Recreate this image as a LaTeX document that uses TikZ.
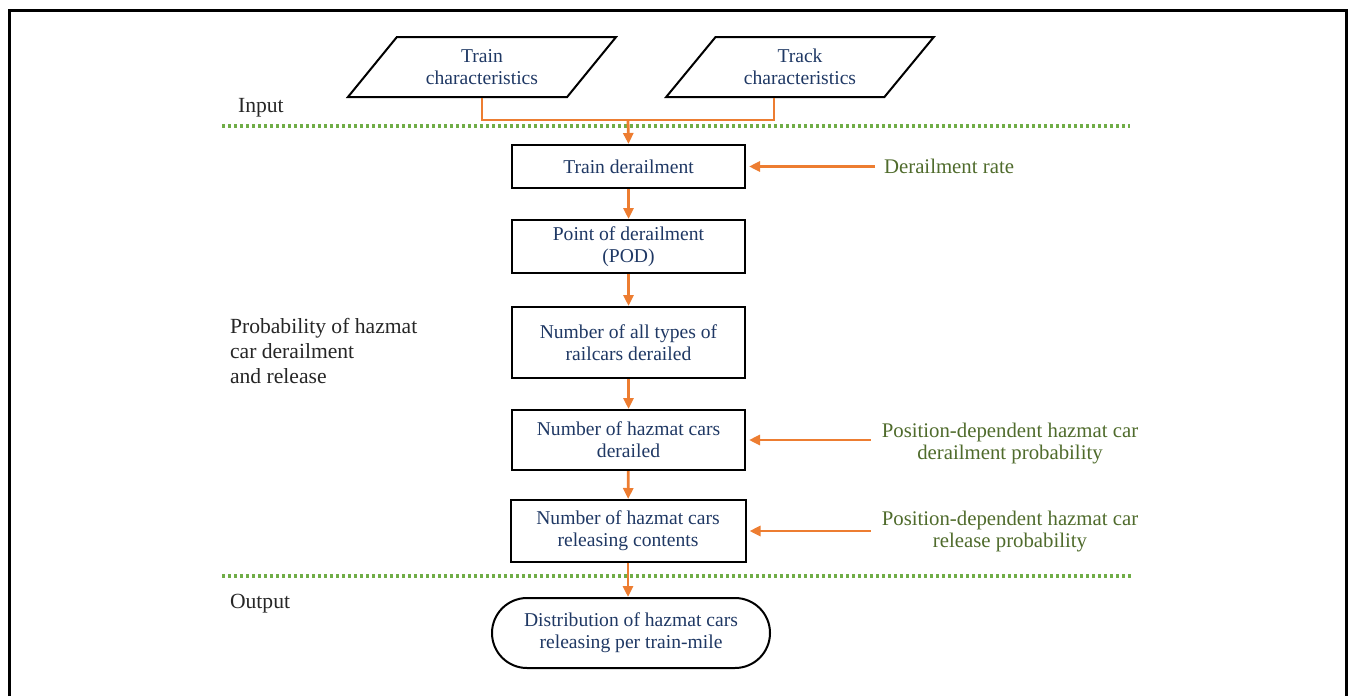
\documentclass[tikz,border=0pt]{standalone}
\usepackage{fontspec}
\setmainfont{Liberation Serif}
\usetikzlibrary{arrows.meta,shapes.geometric,calc}
\definecolor{boxtxt}{HTML}{1F3864}
\definecolor{sidegreen}{HTML}{4F6B2C}
\definecolor{arrorange}{HTML}{ED7D31}
\definecolor{sepgreen}{HTML}{70AD47}
\definecolor{stagetxt}{HTML}{262626}
\begin{document}
\begin{tikzpicture}[x=0.5pt,y=-0.5pt,>={Triangle[length=5.5pt,width=5pt]},
 font=\fontsize{9.8}{11}\selectfont,
 stepbox/.style={draw,line width=1pt,text=boxtxt,align=center,minimum width=116.5pt,inner sep=0pt},
 inbox/.style={trapezium,trapezium left angle=47.5,trapezium right angle=132.5,trapezium stretches=true,
  draw,line width=1pt,minimum width=134.5pt,minimum height=30pt,text=boxtxt,align=center,inner sep=0pt},
 flow/.style={->,draw=arrorange,line width=1.4pt},
 sep/.style={draw=sepgreen,line width=1.6pt,dash pattern=on 1.5pt off 1.5pt},
 side/.style={text=sidegreen,align=center,font=\fontsize{10.4}{11}\selectfont},
 stage/.style={text=stagetxt,anchor=west,align=left,font=\fontsize{10.8}{12.7}\selectfont}]
\useasboundingbox (0,0) rectangle (1348,696);
\draw[line width=1.5pt] (9,696) |- (1346,10) -- (1346,696);
% inputs
\node[inbox] (trn) at (482,67) {Train\\characteristics};
\node[inbox] (trk) at (800,67) {Track\\characteristics};
% model steps
\node[stepbox,minimum height=21.5pt] (td) at (628.5,166.5) {Train derailment};
\node[stepbox,minimum height=26.5pt] (pod) at (628.5,246.5) {Point of derailment\\(POD)};
\node[stepbox,minimum height=35.5pt] (nall) at (628.5,342.5) {Number of all types of\\railcars derailed};
\node[stepbox,minimum height=30pt] (nhd) at (628.5,440) {Number of hazmat cars\\derailed};
\node[stepbox,minimum height=31pt,minimum width=117.5pt] (nhr) at (628,531) {Number of hazmat cars\\releasing contents};
\node[draw,line width=1pt,rounded corners=17.5pt,minimum width=139pt,minimum height=35pt,
 text=boxtxt,align=center] (dist) at (631,633) {Distribution of hazmat cars\\releasing per train-mile};
% side inputs
\node[side,anchor=west] (rate) at (877,166.5) {Derailment rate};
\node[side] (pdd) at (1010,444) {Position-dependent hazmat car\\derailment probability};
\node[side] (pdr) at (1010,532) {Position-dependent hazmat car\\release probability};
% stages
\node[stage] (lin) at (231,108) {Input};
\node[stage] (lprob) at (223,351) {Probability of hazmat\\car derailment\\and release};
\node[stage] (lout) at (223,604) {Output};
\draw[sep] (222,126) -- (1130,126);
\draw[sep] (222,576) -- (1133,576);
% connectors
\coordinate (join) at (628,120);
\draw[draw=arrorange,line width=1.4pt] (trn.south) |- (join) -| ($(trk.south)+(-26,0)$);
\draw[flow] (join) -- (td.north);
\draw[flow] (td) -- (pod);
\draw[flow] (pod) -- (nall);
\draw[flow] (nall) -- (nhd);
\draw[flow] (nhd) -- (nhr);
\draw[flow] (nhr.south) -- ($(dist.north)+(-3,0)$);
\draw[flow,shorten >=1.5pt] ($(rate.west)+(-2,0)$) -- (td.east);
\draw[flow,shorten >=1.5pt] ($(pdd.west|-nhd.east)+(-4,0)$) -- (nhd.east);
\draw[flow,shorten >=1.5pt] ($(pdr.west|-nhr.east)+(-4,0)$) -- (nhr.east);
\end{tikzpicture}
\end{document}
